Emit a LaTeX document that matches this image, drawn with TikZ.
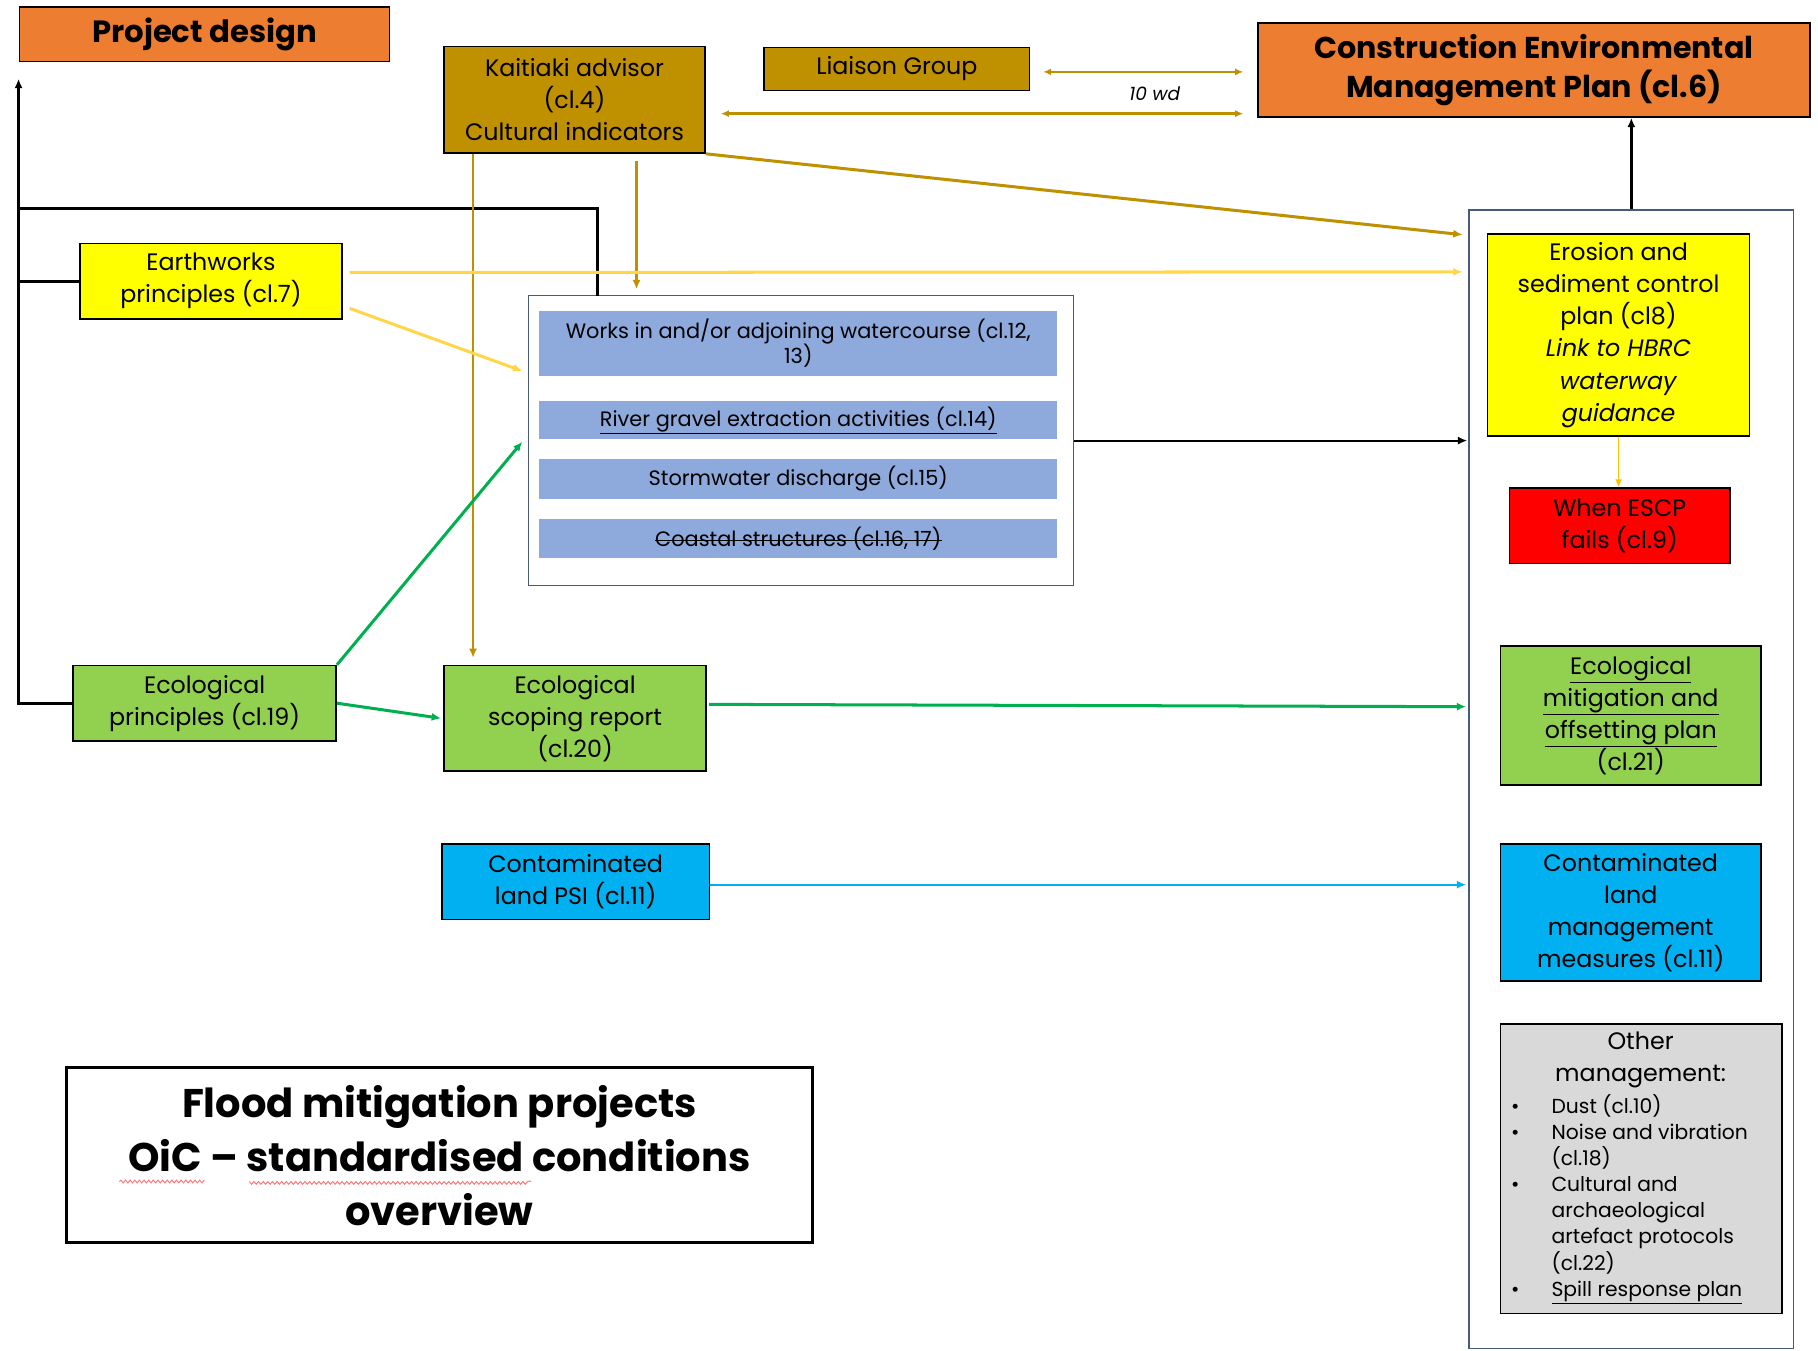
\documentclass[tikz,border=0pt]{standalone}
\usepackage{fontspec}
\setmainfont{Poppins}
\usetikzlibrary{arrows.meta,calc,decorations.pathmorphing}
\definecolor{corange}{HTML}{ED7D31}
\definecolor{cgold}{HTML}{BF9000}
\definecolor{cyel}{HTML}{FFFF00}
\definecolor{cbar}{HTML}{8EA9DB}
\definecolor{cgreenbox}{HTML}{92D050}
\definecolor{cgreen}{HTML}{00B050}
\definecolor{ccyan}{HTML}{00B0F0}
\definecolor{cred}{HTML}{FF0000}
\definecolor{cgray}{HTML}{D9D9D9}
\definecolor{cframe}{HTML}{4A5A7A}
\definecolor{cylline}{HTML}{FFD54A}
\definecolor{cylthin}{HTML}{FFC000}
\begin{document}
\begin{tikzpicture}[x=1pt,y=-1pt,
  box/.style={draw=black, line width=1.3pt, inner sep=0pt, align=center,
    font=\fontsize{20.5}{27.7}\selectfont},
  bar/.style={fill=cbar, draw=none, inner sep=0pt, align=center,
    minimum width=447pt, font=\fontsize{18}{22}\selectfont},
  frame/.style={draw=cframe, line width=1.1pt, fill=white},
  tip/.style={-{Latex[length=8pt,width=7pt]}},
  blk/.style={draw=black, line width=2.4pt},
  gold/.style={draw=cgold, line width=2pt},
  ylw/.style={draw=cylline, line width=2.6pt},
  grn/.style={draw=cgreen, line width=2.6pt},
  cyn/.style={draw=ccyan, line width=2pt}]
\useasboundingbox (0,0) rectangle (1568,1165);

% containers
\node[frame, minimum width=470pt, minimum height=250pt, inner sep=0pt] (works) at (691,380) {};
\node[frame, minimum width=280pt, minimum height=982pt, inner sep=0pt] (rc) at (1407,672) {};

% top row
\node[box, fill=corange, minimum width=319pt, minimum height=47pt,
  font=\bfseries\fontsize{26.5}{30}\selectfont] (pd) at (176.5,29.5) {Project design};
\node[box, fill=cgold, minimum width=225pt, minimum height=92pt] (kai) at (495.5,86)
  {Kaitiaki advisor\\(cl.4)\\Cultural indicators};
\node[box, fill=cgold, minimum width=229pt, minimum height=37pt] (liaison) at (773.5,59.5) {Liaison Group};
\node[box, fill=corange, minimum width=476pt, minimum height=81pt,
  font=\bfseries\fontsize{26}{34}\selectfont] (cemp) at (1323,60.5)
  {Construction Environmental\\Management Plan (cl.6)};
\node[font=\itshape\fontsize{16}{18}\selectfont, inner sep=1pt] (tenwd) at (996,81) {10 wd};

% left column
\node[box, fill=cyel, minimum width=226pt, minimum height=65pt] (earth) at (182,242.5)
  {Earthworks\\principles (cl.7)};
\node[box, fill=cgreenbox, minimum width=227pt, minimum height=65pt] (ecoprin) at (176.5,606.5)
  {Ecological\\principles (cl.19)};
\node[box, fill=cgreenbox, minimum width=226pt, minimum height=91pt] (ecoscope) at (496,619.5)
  {Ecological\\scoping report\\(cl.20)};
\node[box, fill=ccyan, minimum width=231pt, minimum height=65pt] (contpsi) at (496.5,760.5)
  {Contaminated\\land PSI (cl.11)};

% bars in works container
\node[bar, minimum height=56pt] (bar1) at (688.5,296)
  {Works in and/or adjoining watercourse (cl.12,\\13)};
\node[bar, minimum height=33pt] (bar2) at (688.5,362.5)
  {\underline{River gravel extraction activities (cl.14)}};
\node[bar, minimum height=34pt] (bar3) at (688.5,413) {Stormwater discharge (cl.15)};
\node[bar, minimum height=33pt] (bar4) at (688.5,464.5) {};
\node[inner sep=0pt, font=\fontsize{18}{22}\selectfont] (coast) at (bar4.center)
  {Coastal structures (cl.16, 17)};
\draw[line width=1.3pt] ([yshift=5pt]coast.base west) -- ([yshift=5pt]coast.base east);

% right column
\node[box, fill=cyel, minimum width=226pt, minimum height=174pt] (erosion) at (1396,289)
  {Erosion and\\sediment control\\plan (cl8)\\\textit{Link to HBRC}\\\textit{waterway}\\\textit{guidance}};
\node[box, fill=cred, minimum width=190pt, minimum height=65pt] (escp) at (1397,453.5)
  {When ESCP\\fails (cl.9)};
\node[box, fill=cgreenbox, minimum width=225pt, minimum height=120pt] (ecomit) at (1406.5,617)
  {\underline{Ecological}\\\underline{mitigation and}\\\underline{offsetting plan}\\(cl.21)};
\node[box, fill=ccyan, minimum width=225pt, minimum height=118pt] (contmg) at (1406.5,787)
  {Contaminated\\land\\management\\measures (cl.11)};
\node[box, fill=cgray, minimum width=243pt, minimum height=250pt] (other) at (1415.5,1008) {};
\node[inner sep=0pt, align=center, font=\fontsize{20.5}{27.7}\selectfont] (othhead) at (1415,914)
  {Other\\management:};
\node[anchor=north west, inner sep=0pt, font=\fontsize{17.5}{22.4}\selectfont] (othlist) at (1303,943.5)
  {\begin{tabular}{@{}p{35pt}@{}l@{}}
  • & Dust (cl.10)\\
  • & Noise and vibration\\
    & (cl.18)\\
  • & Cultural and\\
    & archaeological\\
    & artefact protocols\\
    & (cl.22)\\
  • & \underline{Spill response plan}
  \end{tabular}};

% title
\node[draw=black, line width=2.6pt, minimum width=644pt, minimum height=151pt, inner sep=0pt,
  align=center, font=\bfseries\fontsize{34.5}{46.5}\selectfont] (title) at (379,996.5)
  {Flood mitigation projects\\OiC – standardised conditions\\overview};
\draw[red!55, line width=0.8pt, decorate, decoration={snake, amplitude=1.2pt, segment length=4pt}]
  (103,1019) -- (175,1019) (215,1019) -- (458,1019);

% coordinates for the trunk
\coordinate (tbot) at (16,606.5);
\coordinate (ttop) at (16,68);
\coordinate (tbr) at (16,180);
\coordinate (tear) at (16,242.5);
\coordinate (wtop) at (515,255);

% black connectors
\draw[blk, tip] (ecoprin.west) -- (tbot) -- (ttop);
\draw[blk] (earth.west) -- (tear);
\draw[blk] (tbr) -| (wtop);
\draw[line width=1.8pt, tip] (works.east) -- ($(works.east -| rc.west)+(-1,0)$);
\draw[line width=2.4pt, tip] (rc.north) -- (rc.north |- cemp.south);

% gold connectors
\draw[gold, {Latex[length=7pt,width=6pt]}-{Latex[length=7pt,width=6pt]}]
  ($(liaison.east)+(11,2.5)$) -- ($(liaison.east -| cemp.west)+(-12,2.5)$);
\draw[gold, {Latex[length=7pt,width=6pt]}-{Latex[length=7pt,width=6pt]}]
  ($(kai.east)+(13,12)$) -- ($(kai.east -| cemp.west)+(-12,12)$);
\draw[gold, line width=2.6pt, tip] (kai.south east) -- ($(rc.north west)+(-5,22)$);
\draw[gold, tip] ($(kai.south)+(53.5,6)$) -- ($(works.north)+(-142,-5)$);
\draw[gold, tip] ($(kai.south)+(-87.5,0)$) -- ($(ecoscope.north)+(-88,-6)$);

% yellow connectors
\draw[ylw, tip] ($(earth.east)+(6,-7.5)$) -- ($(rc.north west)+(-5,54)$);
\draw[ylw, tip] ($(earth.east)+(6,23.5)$) -- ($(works.west)+(-5,-60)$);
\draw[draw=cylthin, line width=1pt, -{Latex[length=7pt,width=6pt]}] (erosion.south) -- (erosion.south |- escp.north);

% green connectors
\draw[grn, tip] (ecoprin.north east) -- ($(works.west)+(-5,1)$);
\draw[grn, tip] (ecoprin.east) -- ($(ecoscope.west)+(-2,0)$);
\draw[grn, tip] ($(ecoscope.east)+(2,-12)$) -- ($(ecoscope.east -| rc.west)+(-2,-10)$);

% cyan connector
\draw[cyn, tip] ($(contpsi.east)+(0,2.5)$) -- ($(contpsi.east -| rc.west)+(-2,2.5)$);
\end{tikzpicture}
\end{document}
